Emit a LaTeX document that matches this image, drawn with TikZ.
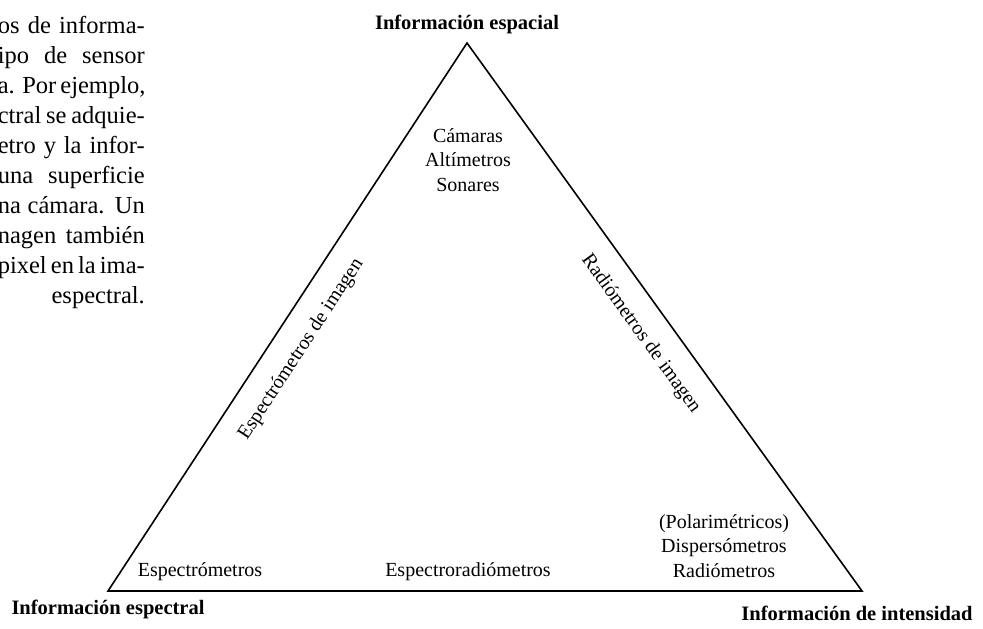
\documentclass[tikz,border=0pt]{standalone}
\usepackage{fontspec}
\setmainfont{Liberation Serif}
\usetikzlibrary{positioning}

% one justified line of the page text
\newcommand{\renglon}[1]{\makebox[147pt][s]{#1}}

\begin{document}
\begin{tikzpicture}[x=1pt, y=-1pt,
  vertice/.style={font=\fontsize{20.5}{23}\selectfont\bfseries},
  sensor/.style={font=\fontsize{20}{24.5}\selectfont, align=center},
  lado/.style={font=\fontsize{20}{24}\selectfont, sloped, below=16pt, pos=#1}]
\useasboundingbox (0,0) rectangle (983,629);

% Text of the page
\node[anchor=north east, align=right, inner sep=0pt,
      font=\fontsize{24.5}{30}\selectfont] (parrafo) at (145,16)
  {\renglon{os de informa-}\\\renglon{ipo de sensor}\\\renglon{a. Por ejemplo,}\\%
   \renglon{ctral se adquie-}\\\renglon{etro y la infor-}\\\renglon{una superficie}\\%
   \renglon{na c\'amara. Un}\\\renglon{nagen tambi\'en}\\\renglon{pixel en la ima-}\\espectral.};

% Vertices
\coordinate (espacial) at (467,43);
\coordinate (espectral) at (108,591);
\coordinate (intensidad) at (862,591);

% Triangle
\draw[line width=1.6pt, line join=miter]
  (espectral) -- node[lado=0.47] (ladoizq) {Espectrómetros de imagen}
  (espacial) -- node[lado=0.5] (ladoder) {Radiómetros de imagen}
  (intensidad) -- cycle;

% Vertex labels
\node[vertice, above=6pt of espacial] (infoespacial) {Información espacial};
\node[vertice, below=6pt of espectral] (infoespectral) {Información espectral};
\node[vertice, below=12pt of intensidad, xshift=-5pt] (infointensidad) {Información de intensidad};

% Sensors
\node[sensor] (camaras) at (468,160) {Cámaras\\Altímetros\\Sonares};
\node[sensor] (espectrometros) at (200,572) {Espectrómetros};
\node[sensor] (espectrorad) at (468,572) {Espectroradiómetros};
\node[sensor] (radiometros) at (724,546) {(Polarimétricos)\\Dispersómetros\\Radiómetros};
\end{tikzpicture}
\end{document}
